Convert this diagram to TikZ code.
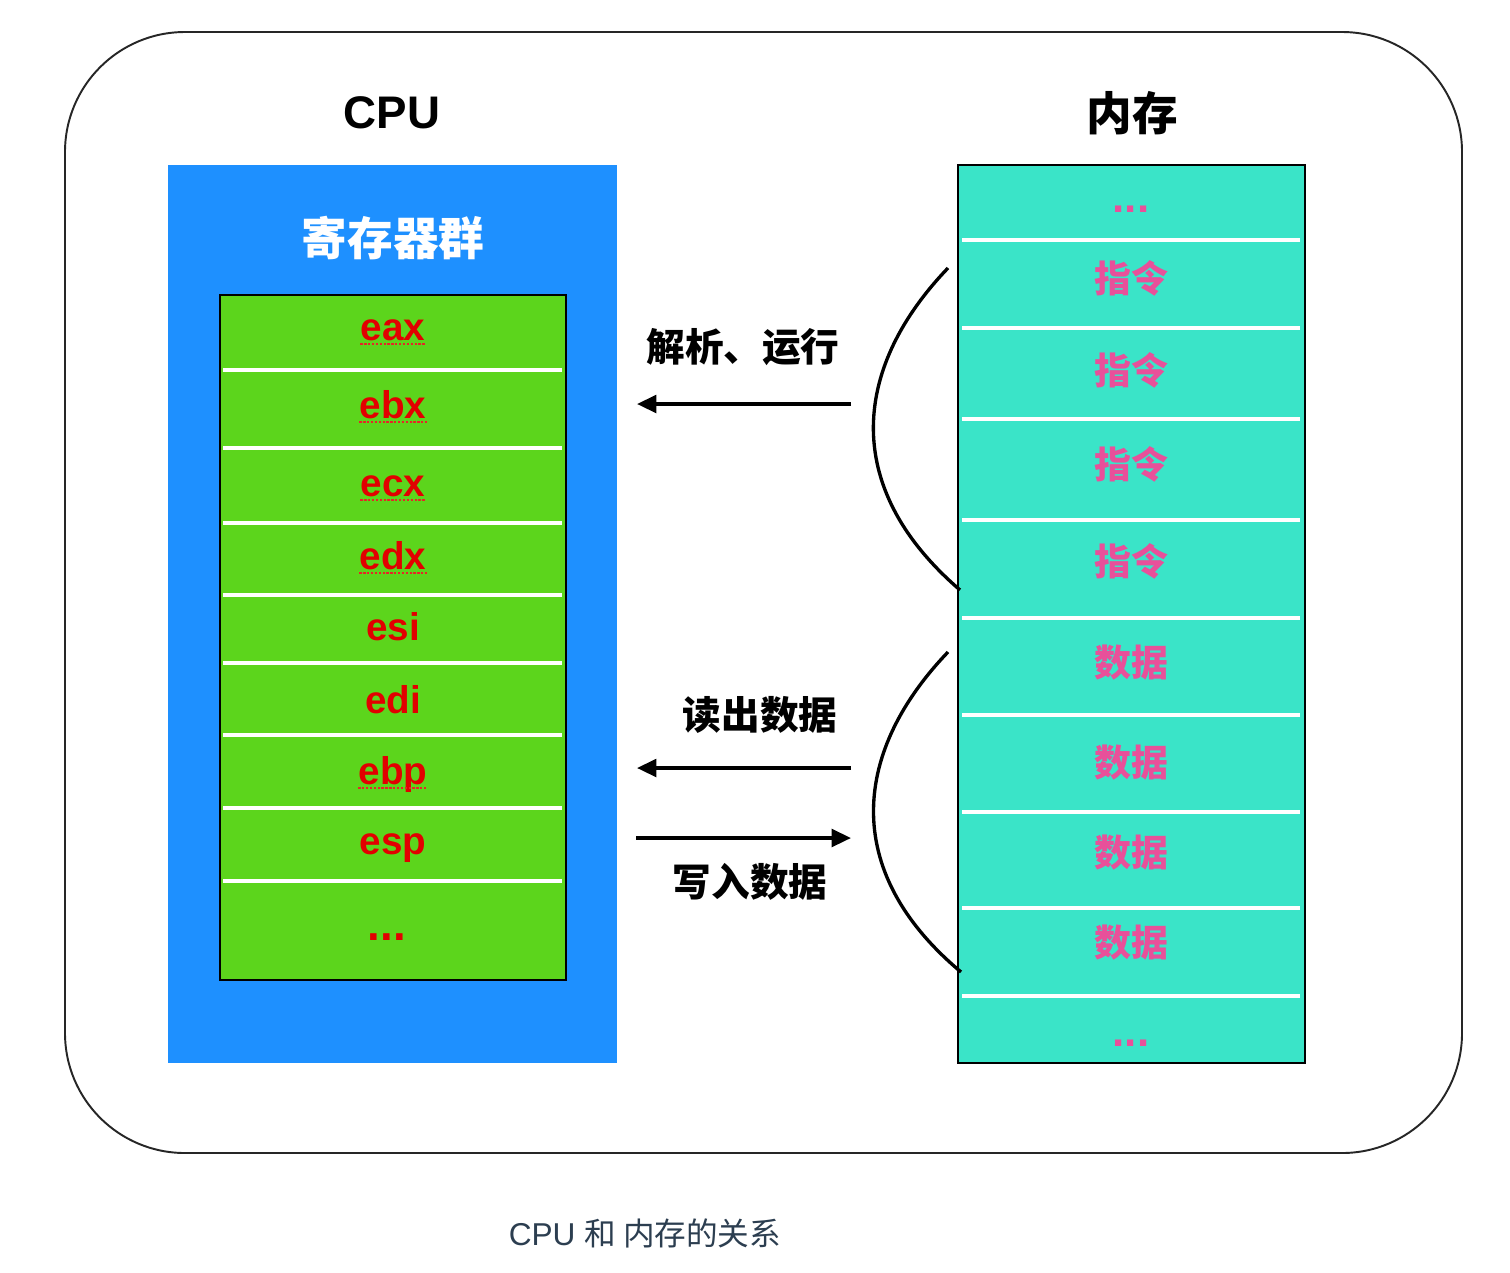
\documentclass[tikz,border=0pt]{standalone}
\usepackage{fontspec}
\setmainfont{Liberation Sans}
\newfontfamily\cjk{Noto Sans CJK SC}
\usetikzlibrary{arrows.meta}
\definecolor{cpublue}{RGB}{30,144,255}
\definecolor{reggreen}{RGB}{92,213,28}
\definecolor{memteal}{RGB}{58,228,200}
\definecolor{regred}{RGB}{226,0,0}
\definecolor{mempink}{RGB}{232,80,154}
\definecolor{captioncol}{RGB}{44,62,80}
\begin{document}
\begin{tikzpicture}[x=0.02cm,y=-0.02cm,
  frame/.style={draw=black!85,line width=1.1pt,rounded corners=2.4cm},
  sep/.style={draw=white,line width=2pt},
  regtxt/.style={text=regred,font=\fontsize{22}{26}\selectfont\bfseries,inner sep=0pt,anchor=base},
  regdots/.style={text=regred,font=\fontsize{26}{30}\selectfont\bfseries,inner sep=0pt,anchor=base},
  memtxt/.style={text=mempink,font=\cjk\fontsize{21}{25}\selectfont\bfseries,inner sep=0pt},
  memdots/.style={text=mempink,font=\fontsize{25}{29}\selectfont\bfseries,inner sep=0pt,anchor=base},
  lbl/.style={font=\cjk\fontsize{22}{26}\selectfont\bfseries,inner sep=0pt},
  ttl/.style={font=\fontsize{26}{30}\selectfont\bfseries,inner sep=0pt},
  ul/.style={draw=regred!85,line width=1.2pt,dash pattern=on 1.3pt off 0.9pt},
  arr/.style={line width=2pt,-{Triangle[length=11pt,width=10pt]}},
  curve/.style={line width=1.9pt}]
\useasboundingbox (0,0) rectangle (1510,1272);
% outer frame
\draw[frame] (65,32) rectangle (1462,1153);
% CPU block
\fill[cpublue] (168,165) rectangle (617,1063);
\node[ttl] (cputitle) at (392,113) {CPU};
\node[ttl,font=\cjk\fontsize{26}{30}\selectfont\bfseries,text=white] (regs) at (393,238) {寄存器群};
\draw[fill=reggreen,draw=black,line width=1.1pt] (220,295) rectangle (566,980);
\foreach \yy in {370,448,523,595,663,735,808,881}
  \draw[sep] (223,\yy) -- (562,\yy);
\node[regtxt] (eax) at (393,340) {eax};
\node[regtxt] (ebx) at (393,418) {ebx};
\node[regtxt] (ecx) at (393,496) {ecx};
\node[regtxt] (edx) at (393,569) {edx};
\node[regtxt] (esi) at (393,640) {esi};
\node[regtxt] (edi) at (393,713) {edi};
\node[regtxt] (ebp) at (393,784) {ebp};
\node[regtxt] (esp) at (393,854) {esp};
\node[regdots] (rdots) at (387,940) {...};
\foreach \n in {eax,ebx,ecx,edx,ebp}
  \draw[ul] ([yshift=-2.2pt]\n.base west) -- ([yshift=-2.2pt]\n.base east);
% memory block
\node[ttl,font=\cjk\fontsize{26}{30}\selectfont\bfseries] (memtitle) at (1132,113) {内存};
\draw[fill=memteal,draw=black,line width=1.1pt] (958,165) rectangle (1305,1063);
\foreach \yy in {240,328,419,520,618,715,812,908,996}
  \draw[sep] (962,\yy) -- (1300,\yy);
\node[memdots] (mtop) at (1131,212) {...};
\node[memtxt] (i1) at (1131,278) {指令};
\node[memtxt] (i2) at (1131,370) {指令};
\node[memtxt] (i3) at (1131,464) {指令};
\node[memtxt] (i4) at (1131,561) {指令};
\node[memtxt] (d1) at (1131,663) {数据};
\node[memtxt] (d2) at (1131,763) {数据};
\node[memtxt] (d3) at (1131,853) {数据};
\node[memtxt] (d4) at (1131,943) {数据};
\node[memdots] (mbot) at (1131,1046) {...};
% braces
\coordinate (c1a) at (948,268);
\coordinate (c1b) at (960,590);
\coordinate (c2a) at (948,652);
\coordinate (c2b) at (961,972);
\draw[curve] (c1a) .. controls (855,365) and (838,485) .. (c1b);
\draw[curve] (c2a) .. controls (855,749) and (838,869) .. (c2b);
% arrows
\coordinate (a1s) at (851,404);
\coordinate (a1e) at (637,404);
\coordinate (a2s) at (851,768);
\coordinate (a2e) at (637,768);
\coordinate (a3s) at (636,838);
\coordinate (a3e) at (851,838);
\draw[arr] (a1s) -- (a1e);
\draw[arr] (a2s) -- (a2e);
\draw[arr] (a3s) -- (a3e);
\node[lbl] (l1) at (743,347) {解析、运行};
\node[lbl] (l2) at (760,715) {读出数据};
\node[lbl] (l3) at (750,882) {写入数据};
% caption
\node[font=\fontsize{18}{21}\selectfont,text=captioncol,inner sep=0pt] (cap) at (645,1233) {CPU {\cjk 和 内存的关系}};
\end{tikzpicture}
\end{document}
